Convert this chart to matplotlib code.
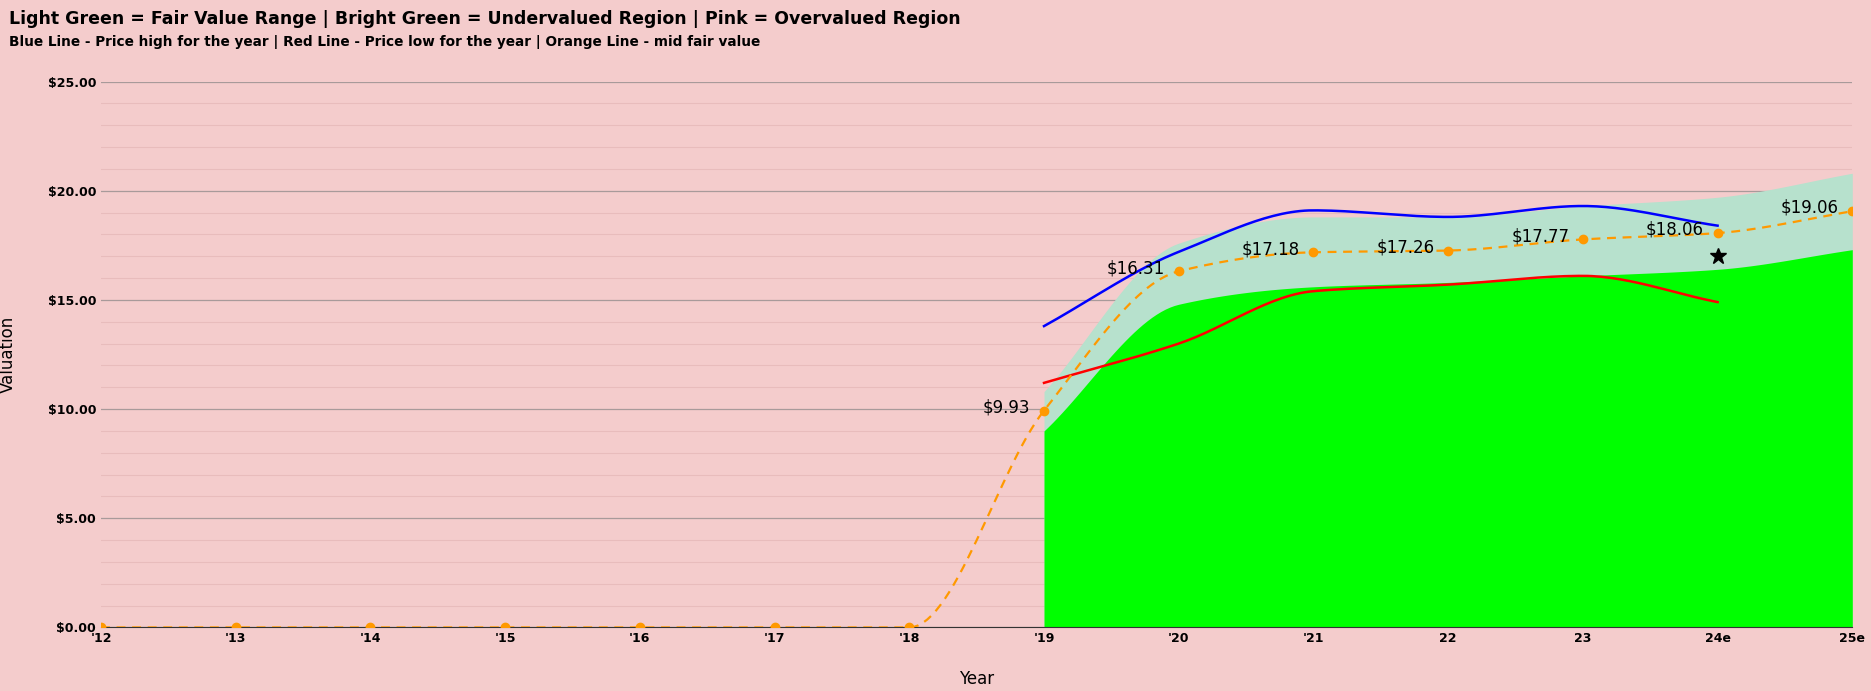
import numpy as np
import matplotlib.pyplot as plt

years = ["'12", "'13", "'14", "'15", "'16", "'17", "'18", "'19", "'20", "'21", "22", "23", "24e", "25e"]
mid_fair = [0, 0, 0, 0, 0, 0, 0, 9.93, 16.31, 17.18, 17.26, 17.77, 18.06, 19.06]

# fair value band, '19 to 25e
band_idx = [7, 8, 9, 10, 11, 12, 13]
fair_low = [9.0, 14.8, 15.6, 15.8, 16.1, 16.4, 17.3]
fair_high = [10.8, 17.6, 18.8, 18.8, 19.3, 19.7, 20.8]

# price high / low, '19 to 24e
price_idx = [7, 8, 9, 10, 11, 12]
price_high = [13.8, 17.2, 19.1, 18.8, 19.3, 18.4]
price_low = [11.2, 13.0, 15.4, 15.7, 16.1, 14.9]

star_x, star_y = 12, 17.0

BG = '#f4cccc'


def smooth(x, y, n=30):
    # monotone cubic (Fritsch-Carlson) for the curved look
    x = np.asarray(x, float)
    y = np.asarray(y, float)
    h = np.diff(x)
    d = np.diff(y) / h
    m = np.zeros_like(y)
    m[0], m[-1] = d[0], d[-1]
    for i in range(1, len(y) - 1):
        if d[i - 1] * d[i] > 0:
            m[i] = 2 / (1 / d[i - 1] + 1 / d[i])
    xs, ys = [], []
    for i in range(len(x) - 1):
        t = np.linspace(0, 1, n, endpoint=(i == len(x) - 2))
        h00 = 2 * t**3 - 3 * t**2 + 1
        h10 = t**3 - 2 * t**2 + t
        h01 = -2 * t**3 + 3 * t**2
        h11 = t**3 - t**2
        xs.append(x[i] + t * h[i])
        ys.append(h00 * y[i] + h10 * h[i] * m[i] + h01 * y[i + 1] + h11 * h[i] * m[i + 1])
    return np.concatenate(xs), np.concatenate(ys)


fig = plt.figure(figsize=(18.71, 6.91), dpi=100, facecolor=BG)
ax = fig.add_axes([0.054, 0.092, 0.936, 0.79])
ax.set_facecolor(BG)

bx, bh = smooth(band_idx, fair_high)
_, bl = smooth(band_idx, fair_low)
ax.fill_between(bx, 0, bh, color='#b7e1cd', lw=0, zorder=1)
ax.fill_between(bx, 0, bl, color='#00ff00', lw=0, zorder=2)

px, ph = smooth(price_idx, price_high)
_, pl = smooth(price_idx, price_low)
ax.plot(px, ph, color='blue', lw=1.8, zorder=3)
ax.plot(px, pl, color='red', lw=1.8, zorder=3)

mx, my = smooth(range(len(years)), mid_fair)
ax.plot(mx, my, color='#ff9900', lw=1.6, ls=(0, (4, 3)), zorder=4)
ax.plot(range(len(years)), mid_fair, 'o', color='#ff9900', ms=6, zorder=5)

for i, v in enumerate(mid_fair):
    if v > 0:
        ax.text(i - 0.1, v + 0.15, f'${v:.2f}', ha='right', va='center',
                fontsize=12, zorder=6)

ax.plot(star_x, star_y, marker='*', color='black', ms=12, zorder=6)

ax.set_xlim(0, len(years) - 1)
ax.set_ylim(0, 25)
ax.set_xticks(range(len(years)))
ax.set_xticklabels(years, fontsize=9, fontweight='bold')
ax.set_yticks(np.arange(0, 26, 5))
ax.set_yticklabels([f'${v:.2f}' for v in np.arange(0, 26, 5)], fontsize=9, fontweight='bold')
ax.set_yticks(np.arange(0, 25, 1), minor=True)
ax.grid(axis='y', which='major', color='#a89a9a', lw=0.9, zorder=0)
ax.grid(axis='y', which='minor', color='#e8bcbc', lw=0.8, zorder=0)
ax.tick_params(length=0, which='both')
ax.set_axisbelow(True)
for s in ['top', 'right', 'left']:
    ax.spines[s].set_visible(False)
ax.spines['bottom'].set_color('#333333')
ax.set_xlabel('Year', fontsize=12, labelpad=18)
ax.set_ylabel('Valuation', fontsize=12, labelpad=22)

fig.text(0.005, 0.985, 'Light Green = Fair Value Range | Bright Green = Undervalued Region | Pink = Overvalued Region',
         fontsize=12.5, fontweight='bold', va='top')
fig.text(0.005, 0.95, 'Blue Line - Price high for the year | Red Line - Price low for the year | Orange Line - mid fair value',
         fontsize=9.8, fontweight='bold', va='top')

fig.savefig('out.png', dpi=100, facecolor=BG)
